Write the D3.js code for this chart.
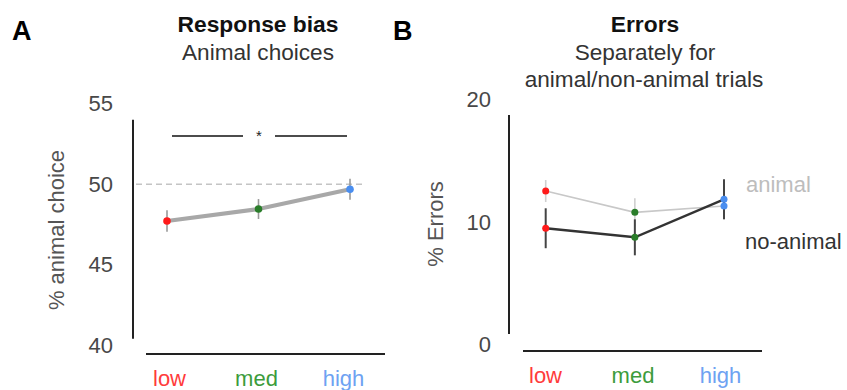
<!DOCTYPE html>
<html><head><meta charset="utf-8">
<script src="https://cdn.jsdelivr.net/npm/d3@7"></script>
<style>
body{margin:0;background:#fff;}
text{font-family:"Liberation Sans",Arial,Helvetica,sans-serif;}
</style></head>
<body>
<svg id="c" width="847" height="390"></svg>
<script>
// ---- data ----
const categories = ["low", "med", "high"];
const catColors = ["#ff1a1a", "#2a7d2a", "#4a8ef0"];
const labelColors = ["#ff3b3b", "#3c9c3c", "#6ea2f2"];

// Panel A: % animal choice
const biasMean = [47.72, 48.46, 49.69];
const biasErr = [0.67, 0.62, 0.65];
const biasTicks = [40, 45, 50, 55];
const biasRef = 50;

// Panel B: % errors
const errAnimal = [12.53, 10.79, 11.31];
const errAnimalSE = [0.9, 1.15, 1.1];
const errNoAnimal = [9.49, 8.75, 11.85];
const errNoAnimalSE = [1.63, 1.47, 1.63];
const errTicks = [0, 10, 20];

const svg = d3.select("#c");
const FONT = "Liberation Sans, Arial, sans-serif";

// ---------------- Panel A ----------------
const yA = d3.scaleLinear().domain([40, 55]).range([345.3, 103.7]);
const xA = d3.scalePoint().domain(categories).range([167, 350]);
const xAlab = d3.scalePoint().domain(categories).range([169, 343]);

const gA = svg.append("g");
gA.append("text").attr("x", 12).attr("y", 40).text("A")
  .attr("font-size", 27).attr("font-weight", "bold").attr("fill", "#000");
gA.append("text").attr("x", 258).attr("y", 32).attr("text-anchor", "middle")
  .attr("font-size", 22.8).attr("font-weight", "bold").attr("fill", "#111").text("Response bias");
gA.append("text").attr("x", 258).attr("y", 60).attr("text-anchor", "middle")
  .attr("font-size", 22.6).attr("fill", "#333").text("Animal choices");

// y axis: labels through d3 axis, trimmed line drawn separately
const axA = gA.append("g").attr("transform", "translate(133,0)")
  .call(d3.axisLeft(yA).tickValues(biasTicks).tickSize(0).tickPadding(20));
axA.select(".domain").remove();
axA.selectAll("text").attr("font-size", 22).attr("fill", "#484848").attr("font-family", FONT);
gA.append("line").attr("x1", 133).attr("x2", 133).attr("y1", yA(54)).attr("y2", yA(40.4))
  .attr("stroke", "#222").attr("stroke-width", 2);
gA.append("text").attr("transform", "translate(64,230) rotate(-90)").attr("text-anchor", "middle")
  .attr("font-size", 22).attr("fill", "#555").text("% animal choice");

// x axis
gA.append("line").attr("x1", 146).attr("x2", 385).attr("y1", 354).attr("y2", 354)
  .attr("stroke", "#222").attr("stroke-width", 2);
const axAx = gA.append("g").attr("transform", "translate(0,354)")
  .call(d3.axisBottom(xAlab).tickSize(0).tickPadding(16));
axAx.select(".domain").remove();
axAx.selectAll("text").attr("font-size", 22).attr("font-family", FONT)
  .attr("fill", (d, i) => labelColors[i]);

// reference dashed line
gA.append("line").attr("x1", 136).attr("x2", 366).attr("y1", yA(biasRef)).attr("y2", yA(biasRef))
  .attr("stroke", "#c4c4c4").attr("stroke-width", 1.3).attr("stroke-dasharray", "6,4");

// significance bracket
gA.append("line").attr("x1", 172).attr("x2", 243).attr("y1", 136).attr("y2", 136).attr("stroke", "#111").attr("stroke-width", 1.5);
gA.append("line").attr("x1", 275).attr("x2", 347).attr("y1", 136).attr("y2", 136).attr("stroke", "#111").attr("stroke-width", 1.5);
gA.append("text").attr("x", 259).attr("y", 141).attr("text-anchor", "middle").attr("font-size", 15).attr("fill", "#222").text("*");

// error bars
gA.selectAll(".ebA").data(categories).enter().append("line")
  .attr("x1", d => xA(d)).attr("x2", d => xA(d))
  .attr("y1", (d, i) => yA(biasMean[i] - biasErr[i])).attr("y2", (d, i) => yA(biasMean[i] + biasErr[i]))
  .attr("stroke", "#999").attr("stroke-width", 1.6);
// line
const lineA = d3.line().x((d, i) => xA(categories[i])).y(d => yA(d));
gA.append("path").datum(biasMean).attr("d", lineA).attr("fill", "none")
  .attr("stroke", "#a8a8a8").attr("stroke-width", 4).attr("stroke-linecap", "round");
gA.selectAll(".ptA").data(biasMean).enter().append("circle")
  .attr("cx", (d, i) => xA(categories[i])).attr("cy", d => yA(d)).attr("r", 3.8)
  .attr("fill", (d, i) => catColors[i]);

// ---------------- Panel B ----------------
const yB = d3.scaleLinear().domain([0, 20]).range([344.5, 99.5]);
const xB = d3.scalePoint().domain(categories).range([545.7, 724]);
const xBlab = d3.scalePoint().domain(categories).range([545, 720]);

const gB = svg.append("g");
gB.append("text").attr("x", 393).attr("y", 40).text("B")
  .attr("font-size", 27).attr("font-weight", "bold").attr("fill", "#000");
gB.append("text").attr("x", 645).attr("y", 32).attr("text-anchor", "middle")
  .attr("font-size", 22.8).attr("font-weight", "bold").attr("fill", "#111").text("Errors");
gB.append("text").attr("x", 645).attr("y", 60).attr("text-anchor", "middle")
  .attr("font-size", 22.6).attr("fill", "#333").text("Separately for");
gB.append("text").attr("x", 644).attr("y", 87).attr("text-anchor", "middle")
  .attr("font-size", 22.6).attr("fill", "#333").text("animal/non-animal trials");

const axB = gB.append("g").attr("transform", "translate(509,0)")
  .call(d3.axisLeft(yB).tickValues(errTicks).tickSize(0).tickPadding(18));
axB.select(".domain").remove();
axB.selectAll("text").attr("font-size", 22).attr("fill", "#484848").attr("font-family", FONT);
gB.append("line").attr("x1", 509).attr("x2", 509).attr("y1", yB(18.73)).attr("y2", yB(0.86))
  .attr("stroke", "#222").attr("stroke-width", 2);
gB.append("text").attr("transform", "translate(443,224) rotate(-90)").attr("text-anchor", "middle")
  .attr("font-size", 22).attr("fill", "#555").text("% Errors");

gB.append("line").attr("x1", 523).attr("x2", 762).attr("y1", 351).attr("y2", 351)
  .attr("stroke", "#222").attr("stroke-width", 2);
const axBx = gB.append("g").attr("transform", "translate(0,351)")
  .call(d3.axisBottom(xBlab).tickSize(0).tickPadding(16));
axBx.select(".domain").remove();
axBx.selectAll("text").attr("font-size", 22).attr("font-family", FONT)
  .attr("fill", (d, i) => labelColors[i]);

const lineB = d3.line().x((d, i) => xB(categories[i])).y(d => yB(d));
// animal series (light)
gB.selectAll(".ebAn").data(categories).enter().append("line")
  .attr("x1", d => xB(d)).attr("x2", d => xB(d))
  .attr("y1", (d, i) => yB(errAnimal[i] - errAnimalSE[i])).attr("y2", (d, i) => yB(errAnimal[i] + errAnimalSE[i]))
  .attr("stroke", "#cfcfcf").attr("stroke-width", 1.6);
gB.append("path").datum(errAnimal).attr("d", lineB).attr("fill", "none")
  .attr("stroke", "#c8c8c8").attr("stroke-width", 1.6);
// no-animal series (dark)
gB.selectAll(".ebNo").data(categories).enter().append("line")
  .attr("x1", d => xB(d)).attr("x2", d => xB(d))
  .attr("y1", (d, i) => yB(errNoAnimal[i] - errNoAnimalSE[i])).attr("y2", (d, i) => yB(errNoAnimal[i] + errNoAnimalSE[i]))
  .attr("stroke", "#444").attr("stroke-width", 2);
gB.append("path").datum(errNoAnimal).attr("d", lineB).attr("fill", "none")
  .attr("stroke", "#333").attr("stroke-width", 2.4);
gB.selectAll(".ptAn").data(errAnimal).enter().append("circle")
  .attr("cx", (d, i) => xB(categories[i])).attr("cy", d => yB(d)).attr("r", 3.5)
  .attr("fill", (d, i) => catColors[i]);
gB.selectAll(".ptNo").data(errNoAnimal).enter().append("circle")
  .attr("cx", (d, i) => xB(categories[i])).attr("cy", d => yB(d)).attr("r", 3.5)
  .attr("fill", (d, i) => catColors[i]);

// series labels
gB.append("text").attr("x", 746).attr("y", 192).attr("font-size", 22).attr("fill", "#bdbdbd").text("animal");
gB.append("text").attr("x", 745).attr("y", 249).attr("font-size", 22).attr("fill", "#333").text("no-animal");
</script>
</body></html>
